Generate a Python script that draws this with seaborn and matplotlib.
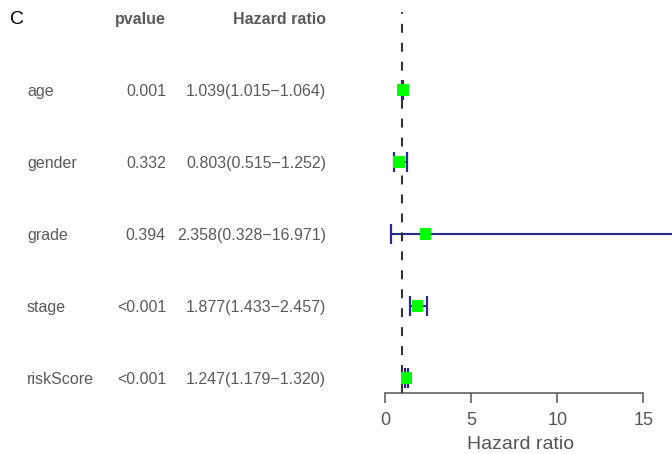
import matplotlib
matplotlib.use("Agg")
import matplotlib.pyplot as plt
import matplotlib.transforms as mtransforms
import seaborn as sns
import pandas as pd

variables = ["age", "gender", "grade", "stage", "riskScore"]
pvalues = ["0.001", "0.332", "0.394", "<0.001", "<0.001"]
hr = [1.039, 0.803, 2.358, 1.877, 1.247]
hr_low = [1.015, 0.515, 0.328, 1.433, 1.179]
hr_high = [1.064, 1.252, 16.971, 2.457, 1.320]
xticks = [0, 5, 10, 15]

df = pd.DataFrame({"variable": variables, "pvalue": pvalues, "hr": hr,
                   "low": hr_low, "high": hr_high})
df["y"] = len(df) - df.index
df["label"] = [f"{h:.3f}({l:.3f}\u2212{u:.3f})" for h, l, u in zip(df.hr, df.low, df.high)]

sns.set_theme(style="white")
plt.rcParams["font.family"] = ["Liberation Sans", "DejaVu Sans"]

W, H = 672, 454
fig = plt.figure(figsize=(W / 100, H / 100), dpi=100)
ax = fig.add_axes([370 / W, (H - 393) / H, 302 / W, 393 / H])

n = len(df)
ax.set_ylim(1 - 15 / 72, n + 1 + 18 / 72)
ax.set_xlim(-15 / 17.22, (W - 385) / 17.22)

# confidence intervals
ax.errorbar(df.hr, df.y, xerr=[df.hr - df.low, df.high - df.hr], fmt="none",
            ecolor="#28288f", elinewidth=1.5, capsize=7.5, capthick=1.6, zorder=2)
# reference line
y0, y1 = ax.get_ylim()
ax.axvline(1, ymin=0, ymax=(n + 1 + 6 / 72 - y0) / (y1 - y0),
           color="#333333", linestyle=(0, (4.3, 4.8)), linewidth=1.5, zorder=3)
# point estimates
sns.scatterplot(data=df, x="hr", y="y", marker="s", s=70, color="#00ff00",
                edgecolor="none", ax=ax, zorder=4, legend=False)

for s in ["top", "right", "left"]:
    ax.spines[s].set_visible(False)
ax.spines["bottom"].set_bounds(0, 15)
ax.spines["bottom"].set_color("#555555")
ax.spines["bottom"].set_linewidth(1.1)
ax.set_xticks(xticks)
ax.set_yticks([])
ax.tick_params(axis="x", direction="out", length=7, width=1.1, color="#555555",
               labelsize=13, labelcolor="#555555", pad=7, bottom=True)
ax.set_xlabel("Hazard ratio", fontsize=14, color="#555555", labelpad=5)
ax.set_ylabel("")
ax.patch.set_alpha(0)

tr = mtransforms.blended_transform_factory(fig.transFigure, ax.transData)
txt_color = "#5a5a5a"
for _, r in df.iterrows():
    ax.text(27 / W, r.y, r.variable, transform=tr, ha="left", va="center_baseline",
            fontsize=11.5, color=txt_color)
    ax.text(166 / W, r.y, r.pvalue, transform=tr, ha="right", va="center_baseline",
            fontsize=11.5, color=txt_color)
    ax.text(326 / W, r.y, r.label, transform=tr, ha="right", va="center_baseline",
            fontsize=11.5, color=txt_color)

ax.text(166 / W, n + 1, "pvalue", transform=tr, ha="right", va="center_baseline",
        fontsize=11.5, fontweight="bold", color=txt_color)
ax.text(326 / W, n + 1, "Hazard ratio", transform=tr, ha="right", va="center_baseline",
        fontsize=11.5, fontweight="bold", color=txt_color)
ax.text(10 / W, n + 1, "C", transform=tr, ha="left", va="center_baseline",
        fontsize=14, color="black")

fig.savefig("out.png", dpi=100)
